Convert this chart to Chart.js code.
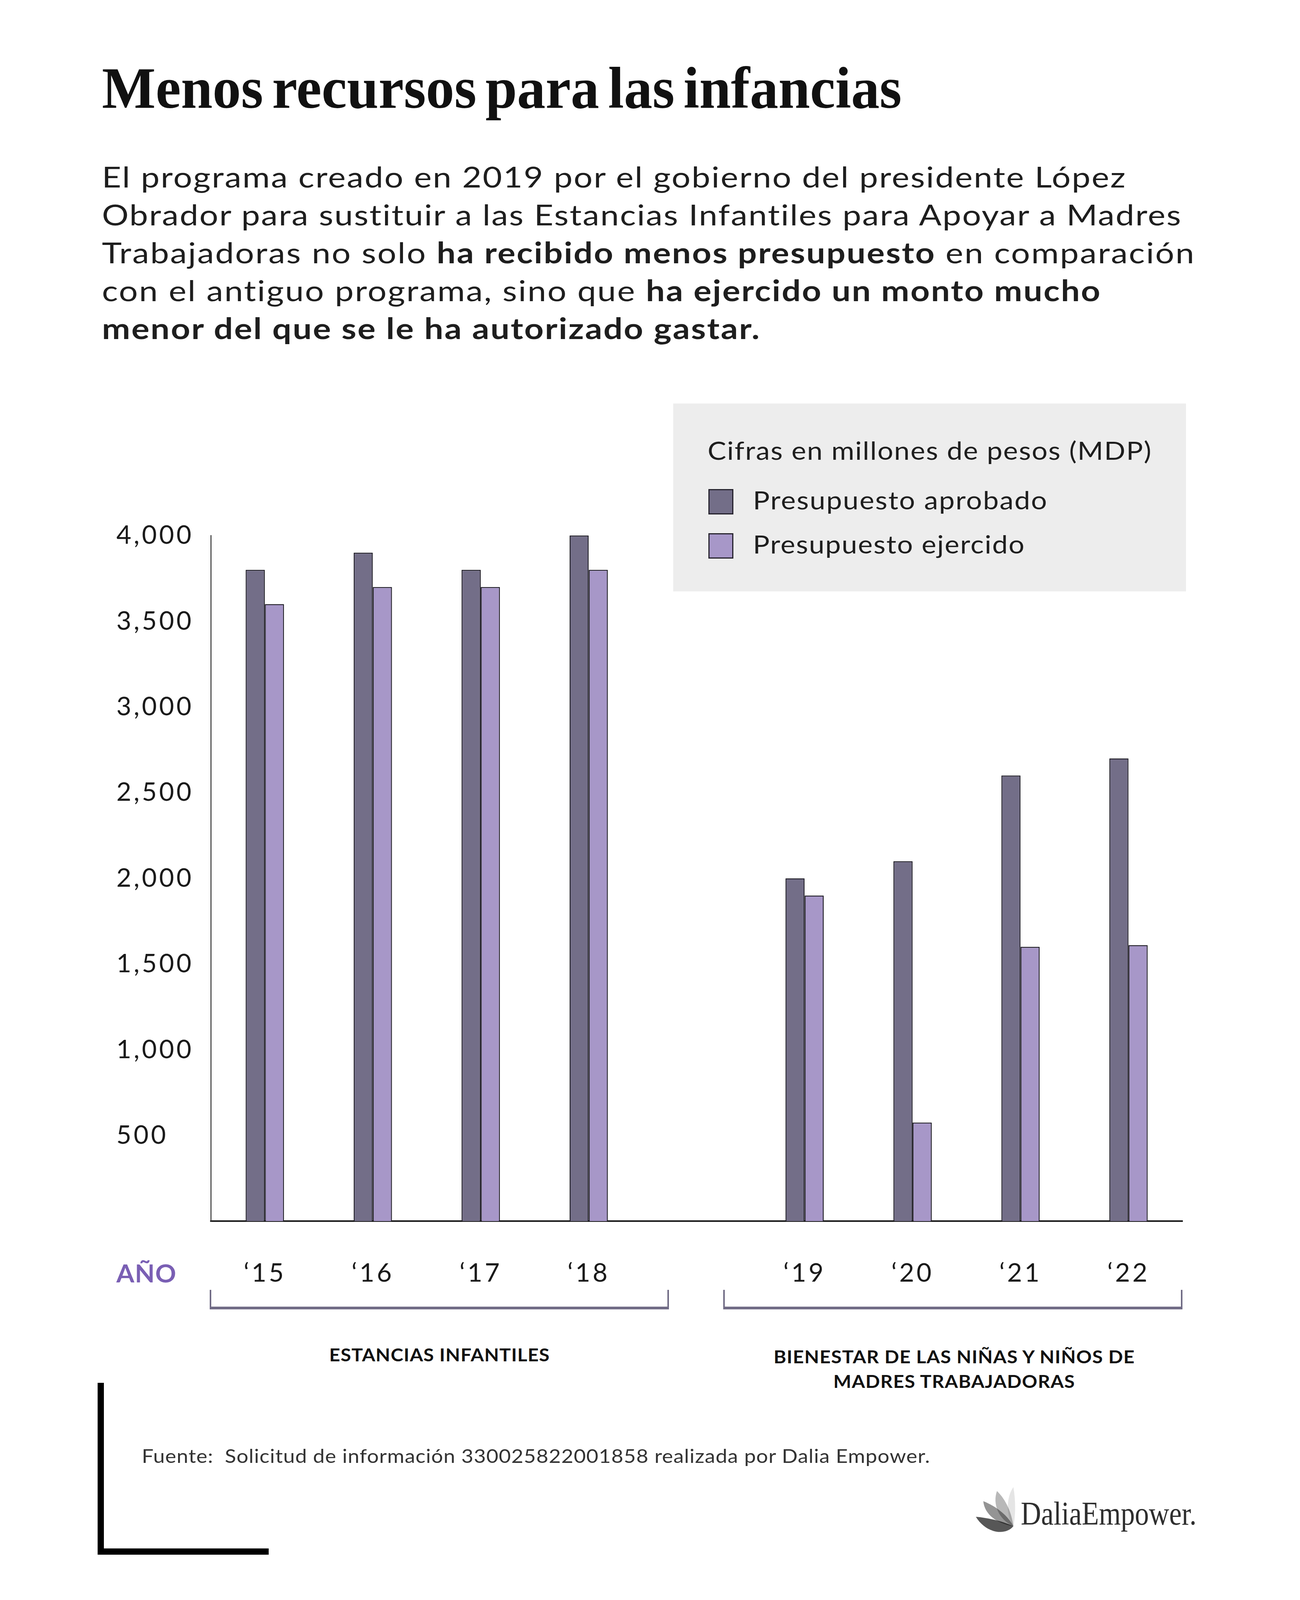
<!DOCTYPE html>
<html lang="es">
<head>
<meta charset="utf-8">
<title>Menos recursos para las infancias</title>
<script src="https://cdn.jsdelivr.net/npm/chart.js@4.4.1/dist/chart.umd.min.js"></script>
<style>
html, body { margin: 0; padding: 0; background: #fff; }
body { width: 3329px; height: 4127px; position: relative; overflow: hidden;
       font-family: Lato, "Noto Sans", sans-serif; color: #1a1a1a; }
.t { position: absolute; white-space: nowrap; line-height: 1; transform-origin: 0 0; }
b { font-weight: 700; }
#title { font-family: "Liberation Serif", serif; font-weight: 700; font-size: 150px; color: #111; word-spacing: -14px; }
.body { font-size: 74px; color: #1e1e1e; }
#legend-box { position: absolute; left: 1724px; top: 1033px; width: 1313px; height: 481px; background: #ededed; }
.sw { position: absolute; width: 64px; height: 65px; box-sizing: border-box; border: 3px solid #26232e; }
.leg { font-size: 63px; color: #1e1e1e; }
#chart-wrap { position: absolute; left: 250px; top: 1250px; width: 2850px; height: 2050px; }
.bracket { position: absolute; top: 3302px; height: 50px; box-sizing: border-box;
           border: 4px solid #716c86; border-top: none; border-bottom-width: 7px; }
.group { font-size: 45px; font-weight: 700; color: #111; }
#anio { font-size: 64px; font-weight: 700; color: #7a5fb4; }
#fuente { font-size: 49px; color: #333; }
#logo { font-family: "Liberation Serif", serif; font-size: 84px; color: #2e2e2e; }
.bar-l { position: absolute; background: #000; }
</style>
</head>
<body>

<div id="title" class="t" data-x="261" data-base="276" data-sx="2048">Menos recursos para las infancias</div>

<div class="t body" data-x="261" data-base="480" data-w="2621">El programa creado en 2019 por el gobierno del presidente López</div>
<div class="t body" data-x="261" data-base="577" data-w="2766">Obrador para sustituir a las Estancias Infantiles para Apoyar a Madres</div>
<div class="t body" data-x="261" data-base="674" data-w="2797">Trabajadoras no solo <b>ha recibido menos presupuesto</b> en comparación</div>
<div class="t body" data-x="261" data-base="771" data-w="2558">con el antiguo programa, sino que <b>ha ejercido un monto mucho</b></div>
<div class="t body" data-x="261" data-base="868" data-w="1684"><b>menor del que se le ha autorizado gastar.</b></div>

<div id="legend-box"></div>
<div class="t leg" data-x="1812" data-base="1177" data-w="1136">Cifras en millones de pesos (MDP)</div>
<div class="sw" style="left:1814px; top:1252px; background:#736e88;"></div>
<div class="t leg" data-x="1928" data-base="1304" data-w="753">Presupuesto aprobado</div>
<div class="sw" style="left:1814px; top:1365px; background:#a797c8;"></div>
<div class="t leg" data-x="1928" data-base="1417" data-w="695">Presupuesto ejercido</div>

<div id="chart-wrap"><canvas id="budget"></canvas></div>

<div id="anio" class="t" data-x="298" data-base="3283" data-w="153">AÑO</div>

<div class="bracket" style="left:537px; width:1176px;"></div>
<div class="bracket" style="left:1852px; width:1176px;"></div>

<div class="t group" data-cx="1125" data-base="3485" data-w="564">ESTANCIAS INFANTILES</div>
<div class="t group" data-cx="2443" data-base="3490" data-w="924">BIENESTAR DE LAS NIÑAS Y NIÑOS DE</div>
<div class="t group" data-cx="2443" data-base="3553" data-w="618">MADRES TRABAJADORAS</div>

<div class="bar-l" style="left:250px; top:3540px; width:16px; height:440px;"></div>
<div class="bar-l" style="left:250px; top:3964px; width:438px; height:16px;"></div>

<div id="fuente" class="t" data-x="363" data-base="3745" data-w="2018">Fuente:&nbsp; Solicitud de información 330025822001858 realizada por Dalia Empower.</div>

<svg style="position:absolute; left:2495px; top:3800px;" width="110" height="132" viewBox="0 0 110 132">
  <path d="M100,107 C80,80 82,32 100,7 C106,40 106,80 100,107 Z" fill="#000" fill-opacity="0.1"/>
  <path d="M100,107 C62,90 46,50 58,17 C82,40 96,75 100,107 Z" fill="#000" fill-opacity="0.28"/>
  <path d="M100,107 C56,100 26,76 23,43 C56,56 86,80 100,107 Z" fill="#000" fill-opacity="0.42"/>
  <path d="M100,107 C80,132 30,126 4,83 C40,86 76,96 100,107 Z" fill="#000" fill-opacity="0.66"/>
</svg>
<div id="logo" class="t" data-x="2614" data-base="3903" data-sx="450">DaliaEmpower.</div>

<script>
// valores en millones de pesos
const years = ["‘15", "‘16", "‘17", "‘18", "", "‘19", "‘20", "‘21", "‘22"];
const aprobado = [3800, 3900, 3800, 4000, null, 2000, 2100, 2600, 2700];
const ejercido = [3600, 3700, 3700, 3800, null, 1900, 575, 1600, 1610];
const yMax = 4000;
const yStep = 500;

// ancho de referencia: parte con escala horizontal, resto con espaciado
function layoutText() {
    document.querySelectorAll(".t").forEach(el => {
        const natural = el.getBoundingClientRect().width;
        if (el.dataset.w) {
            const target = +el.dataset.w;
            const n = el.textContent.length;
            const s = 1 + 0.65 * (target / natural - 1);
            el.style.letterSpacing = ((target / s - natural) / (n - 1)) + "px";
            el.style.transform = "scaleX(" + s + ")";
        }
        if (el.dataset.sx) {
            el.style.transform = "scaleX(" + (+el.dataset.sx / natural) + ")";
        }
        const probe = document.createElement("span");
        probe.style.cssText = "display:inline-block;width:0;height:0;vertical-align:baseline";
        el.appendChild(probe);
        const base = probe.offsetTop;
        el.removeChild(probe);
        el.style.top = (+el.dataset.base - base) + "px";
        if (el.dataset.cx) {
            el.style.left = (+el.dataset.cx - +el.dataset.w / 2) + "px";
        } else {
            el.style.left = el.dataset.x + "px";
        }
    });
}

document.fonts.ready.then(layoutText);

const spacing = {
    id: "spacing",
    beforeDraw: chart => { chart.ctx.letterSpacing = "6px"; },
    afterDraw: chart => { chart.ctx.letterSpacing = "0px"; }
};

new Chart(
    document.getElementById("budget"),
    {
        type: "bar",
        data: {
            labels: years,
            datasets: [
                {
                    label: "Presupuesto aprobado",
                    data: aprobado,
                    backgroundColor: "#736e88",
                    borderColor: "#1d1b24",
                    borderWidth: 2.5,
                    categoryPercentage: 0.355,
                    barPercentage: 1
                },
                {
                    label: "Presupuesto ejercido",
                    data: ejercido,
                    backgroundColor: "#a797c8",
                    borderColor: "#1d1b24",
                    borderWidth: 2.5,
                    categoryPercentage: 0.355,
                    barPercentage: 1
                }
            ]
        },
        options: {
            responsive: true,
            maintainAspectRatio: false,
            animation: false,
            layout: {
                padding: { left: 48, top: 121, right: 72, bottom: 0 }
            },
            plugins: {
                legend: { display: false },
                tooltip: { enabled: false }
            },
            scales: {
                x: {
                    grid: { display: false },
                    border: { display: true, color: "#1a1a1a", width: 4 },
                    ticks: {
                        font: { family: "Lato", size: 66 },
                        color: "#1a1a1a",
                        padding: 86,
                        maxRotation: 0,
                        autoSkip: false
                    },
                    afterFit: scale => { scale.height = 174; }
                },
                y: {
                    min: 0,
                    max: yMax,
                    grid: { display: false },
                    border: { display: true, color: "#333", width: 2.5 },
                    ticks: {
                        stepSize: yStep,
                        crossAlign: "far",
                        padding: 0,
                        font: { family: "Lato", size: 66 },
                        color: "#1a1a1a",
                        callback: v => v === 0 ? "" : v.toLocaleString("en-US")
                    },
                    afterFit: scale => { scale.width = 242; }
                }
            }
        },
        plugins: [spacing]
    }
);
</script>
</body>
</html>
